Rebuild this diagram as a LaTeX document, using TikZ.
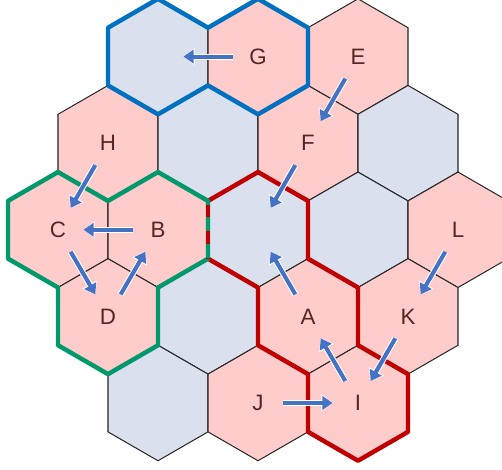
\documentclass[tikz,border=0pt]{standalone}
\usepackage{fontspec}
\setmainfont{Liberation Sans}
\usetikzlibrary{arrows.meta}

\definecolor{hexpink}{RGB}{255,204,204}
\definecolor{hexblue}{RGB}{218,224,238}
\definecolor{lettercol}{RGB}{88,36,36}
\definecolor{movecol}{RGB}{68,114,196}
\definecolor{grpblue}{RGB}{0,112,192}
\definecolor{grpgreen}{RGB}{0,153,108}
\definecolor{grpred}{RGB}{192,0,0}

\begin{document}
\begin{tikzpicture}[x=0.866cm,y=0.5cm,
  cell/.style={inner sep=0pt,text=lettercol,font=\fontsize{11}{13}\selectfont},
  move/.style={line width=2pt,draw=movecol,-{Triangle[length=5pt,width=6.5pt]},
    shorten <=0.44cm,shorten >=0.44cm,
    preaction={draw=white,line width=3pt,-{Triangle[length=5.5pt,width=8pt]}}},
  border/.style={line width=2.2pt,line join=round}]
\useasboundingbox (-5.16,-8.29) rectangle (4.88,7.96);

% the 19 tiles, centre (k,m), corners one step off
\foreach \k/\m/\c in {-2/6/hexblue,0/6/hexpink,2/6/hexpink,
    -3/3/hexpink,-1/3/hexblue,1/3/hexpink,3/3/hexblue,
    -4/0/hexpink,-2/0/hexpink,0/0/hexblue,2/0/hexblue,4/0/hexpink,
    -3/-3/hexpink,-1/-3/hexblue,1/-3/hexpink,3/-3/hexpink,
    -2/-6/hexblue,0/-6/hexpink,2/-6/hexpink}
  \filldraw[fill=\c,draw=black!85,line width=0.5pt,shift={(\k,\m)}]
    (0,2) -- (-1,1) -- (-1,-1) -- (0,-2) -- (1,-1) -- (1,1) -- cycle;

  \node (G) at (0,6) [cell] {G};
  \node (E) at (2,6) [cell] {E};
  \node (H) at (-3,3) [cell] {H};
  \node (F) at (1,3) [cell] {F};
  \node (C) at (-4,0) [cell] {C};
  \node (B) at (-2,0) [cell] {B};
  \node (L) at (4,0) [cell] {L};
  \node (D) at (-3,-3) [cell] {D};
  \node (A) at (1,-3) [cell] {A};
  \node (K) at (3,-3) [cell] {K};
  \node (J) at (0,-6) [cell] {J};
  \node (I) at (2,-6) [cell] {I};
  \node (Z0) at (0,0) [cell] {};
  \node (Z1) at (-2,6) [cell] {};

% groups
\draw[border,grpblue] (-2,8) -- (-1,7) -- (0,8) -- (1,7) -- (1,5) -- (0,4)
   -- (-1,5) -- (-2,4) -- (-3,5) -- (-3,7) -- cycle;
\draw[border,grpred] (-1,1) -- (0,2) -- (1,1) -- (1,-1) -- (2,-2) -- (2,-4)
   -- (3,-5) -- (3,-7) -- (2,-8) -- (1,-7) -- (1,-5) -- (0,-4) -- (0,-2) -- (-1,-1);
\draw[border,grpgreen] (-1,-1) -- (-2,-2) -- (-2,-4) -- (-3,-5) -- (-4,-4)
   -- (-4,-2) -- (-5,-1) -- (-5,1) -- (-4,2) -- (-3,1) -- (-2,2) -- (-1,1) -- cycle;
\draw[border,grpred,line cap=butt,dash pattern=on 6pt off 7pt,dash phase=11pt]
   (-1,1) -- (-1,-1);

\draw[move] (G.center) -- (Z1.center);
\draw[move] (E.center) -- (F.center);
\draw[move] (F.center) -- (Z0.center);
\draw[move] (A.center) -- (Z0.center);
\draw[move] (H.center) -- (C.center);
\draw[move] (B.center) -- (C.center);
\draw[move] (C.center) -- (D.center);
\draw[move] (D.center) -- (B.center);
\draw[move] (L.center) -- (K.center);
\draw[move] (K.center) -- (I.center);
\draw[move] (I.center) -- (A.center);
\draw[move] (J.center) -- (I.center);

\end{tikzpicture}
\end{document}
